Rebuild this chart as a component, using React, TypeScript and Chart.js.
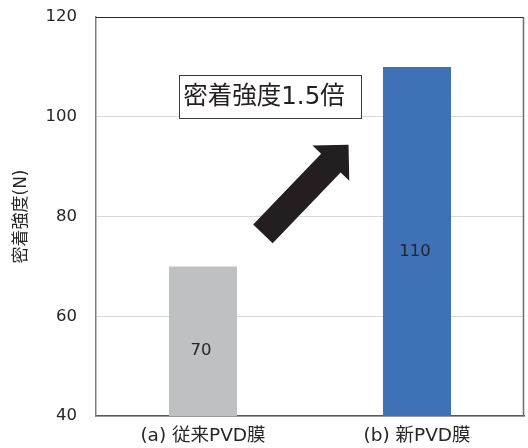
import React, { useEffect, useRef } from 'react';
import { Chart, registerables } from 'chart.js';

Chart.register(...registerables);

// Adhesion strength of the conventional vs. new PVD coating
const categories = ['(a) 従来PVD膜', '(b) 新PVD膜'];
const strengths = [70, 110];
const barColors = ['#BFC0C1', '#3F71B7'];
const yTicks = [40, 60, 80, 100, 120];
const yTitle = '密着強度(N)';
const calloutText = '密着強度1.5倍';

const FONT = '"DejaVu Sans", "Noto Sans CJK JP", sans-serif';
const TEXT = '#262626';

const overlay = {
  id: 'overlay',
  afterDatasetsDraw(chart: any) {
    const { ctx, chartArea, scales } = chart;
    const x = scales.x;
    const y = scales.y;
    ctx.save();

    // plot frame (top and right edges)
    ctx.lineWidth = 1;
    ctx.strokeStyle = '#2b2b2b';
    ctx.beginPath();
    ctx.moveTo(chartArea.left, chartArea.top + 0.5);
    ctx.lineTo(chartArea.right, chartArea.top + 0.5);
    ctx.stroke();
    ctx.strokeStyle = '#6b6b6b';
    ctx.lineWidth = 1.5;
    ctx.beginPath();
    ctx.moveTo(chartArea.right - 0.5, chartArea.top);
    ctx.lineTo(chartArea.right - 0.5, chartArea.bottom);
    ctx.stroke();

    // value labels inside bars
    const meta = chart.getDatasetMeta(0);
    ctx.fillStyle = TEXT;
    ctx.font = `16.5px ${FONT}`;
    ctx.textAlign = 'center';
    ctx.textBaseline = 'middle';
    const floor = chartArea.bottom;
    meta.data.forEach((bar: any, i: number) => {
      const p = bar.getProps(['x', 'y', 'base'], true);
      const base = Math.min(p.base, floor);
      ctx.fillText(String(strengths[i]), p.x - 2, (p.y + base) / 2 + 10);
    });

    // callout box
    const bx0 = x.getPixelForValue(-0.112);
    const bx1 = x.getPixelForValue(0.738);
    const by0 = y.getPixelForValue(108.4);
    const by1 = y.getPixelForValue(99.8);
    ctx.fillStyle = '#ffffff';
    ctx.fillRect(bx0, by0, bx1 - bx0, by1 - by0);
    ctx.strokeStyle = '#3a3a3a';
    ctx.lineWidth = 1;
    ctx.strokeRect(Math.round(bx0) + 0.5, Math.round(by0) + 0.5, Math.round(bx1 - bx0), Math.round(by1 - by0));
    ctx.fillStyle = '#231F20';
    ctx.font = `24.5px ${FONT}`;
    ctx.fillText(calloutText, (bx0 + bx1) / 2 - 6, (by0 + by1) / 2 + 1);

    // block arrow
    const tx = x.getPixelForValue(0.28);
    const ty = y.getPixelForValue(76.5);
    const hx = x.getPixelForValue(0.68);
    const hy = y.getPixelForValue(94.4);
    const len = Math.hypot(hx - tx, hy - ty);
    const dx = (hx - tx) / len;
    const dy = (hy - ty) / len;
    const nx = -dy;
    const ny = dx;
    const shaftHalf = 13.5;
    const headHalf = 25.5;
    const headLen = 25.5;
    const bxp = hx - dx * headLen;
    const byp = hy - dy * headLen;
    ctx.fillStyle = '#231F20';
    ctx.beginPath();
    ctx.moveTo(tx + nx * shaftHalf, ty + ny * shaftHalf);
    ctx.lineTo(bxp + nx * shaftHalf, byp + ny * shaftHalf);
    ctx.lineTo(bxp + nx * headHalf, byp + ny * headHalf);
    ctx.lineTo(hx, hy);
    ctx.lineTo(bxp - nx * headHalf, byp - ny * headHalf);
    ctx.lineTo(bxp - nx * shaftHalf, byp - ny * shaftHalf);
    ctx.lineTo(tx - nx * shaftHalf, ty - ny * shaftHalf);
    ctx.closePath();
    ctx.fill();

    ctx.restore();
  },
};

export default function App() {
  const ref = useRef<HTMLCanvasElement | null>(null);

  useEffect(() => {
    document.body.style.margin = '0';
    if (!ref.current) return;
    const chart = new Chart(ref.current, {
      type: 'bar',
      data: {
        labels: categories,
        datasets: [
          {
            data: strengths,
            backgroundColor: barColors,
            borderWidth: 0,
            categoryPercentage: 1,
            barPercentage: 0.318,
          },
        ],
      },
      options: {
        responsive: false,
        animation: false,
        layout: { padding: { top: 17, right: 4, left: 0, bottom: 0 } },
        plugins: {
          legend: { display: false },
          tooltip: { enabled: false },
        },
        scales: {
          x: {
            grid: { display: false, drawTicks: false },
            border: { display: true, color: '#595959', width: 1.5 },
            ticks: { color: TEXT, font: { size: 18.5, family: FONT }, padding: 9, maxRotation: 0 },
            afterFit: (s: any) => {
              s.height = 32;
            },
          },
          y: {
            min: 40,
            max: 120,
            afterBuildTicks: (s: any) => {
              s.ticks = yTicks.map((v) => ({ value: v }));
            },
            grid: { color: '#D9D9D9', drawTicks: true, tickLength: 16, tickColor: 'rgba(0,0,0,0)' },
            border: { display: true, color: '#808080', width: 1.5 },
            ticks: { color: TEXT, font: { size: 16.5, family: FONT }, padding: 3 },
            title: {
              display: true,
              text: yTitle,
              color: TEXT,
              font: { size: 17, family: FONT },
              padding: { top: 11, bottom: 0 },
            },
            afterFit: (s: any) => {
              s.width = 96;
            },
          },
        },
      },
      plugins: [overlay],
    });
    return () => chart.destroy();
  }, []);

  return (
    <div style={{ width: 528, height: 448 }}>
      <canvas ref={ref} width={528} height={448} />
    </div>
  );
}
